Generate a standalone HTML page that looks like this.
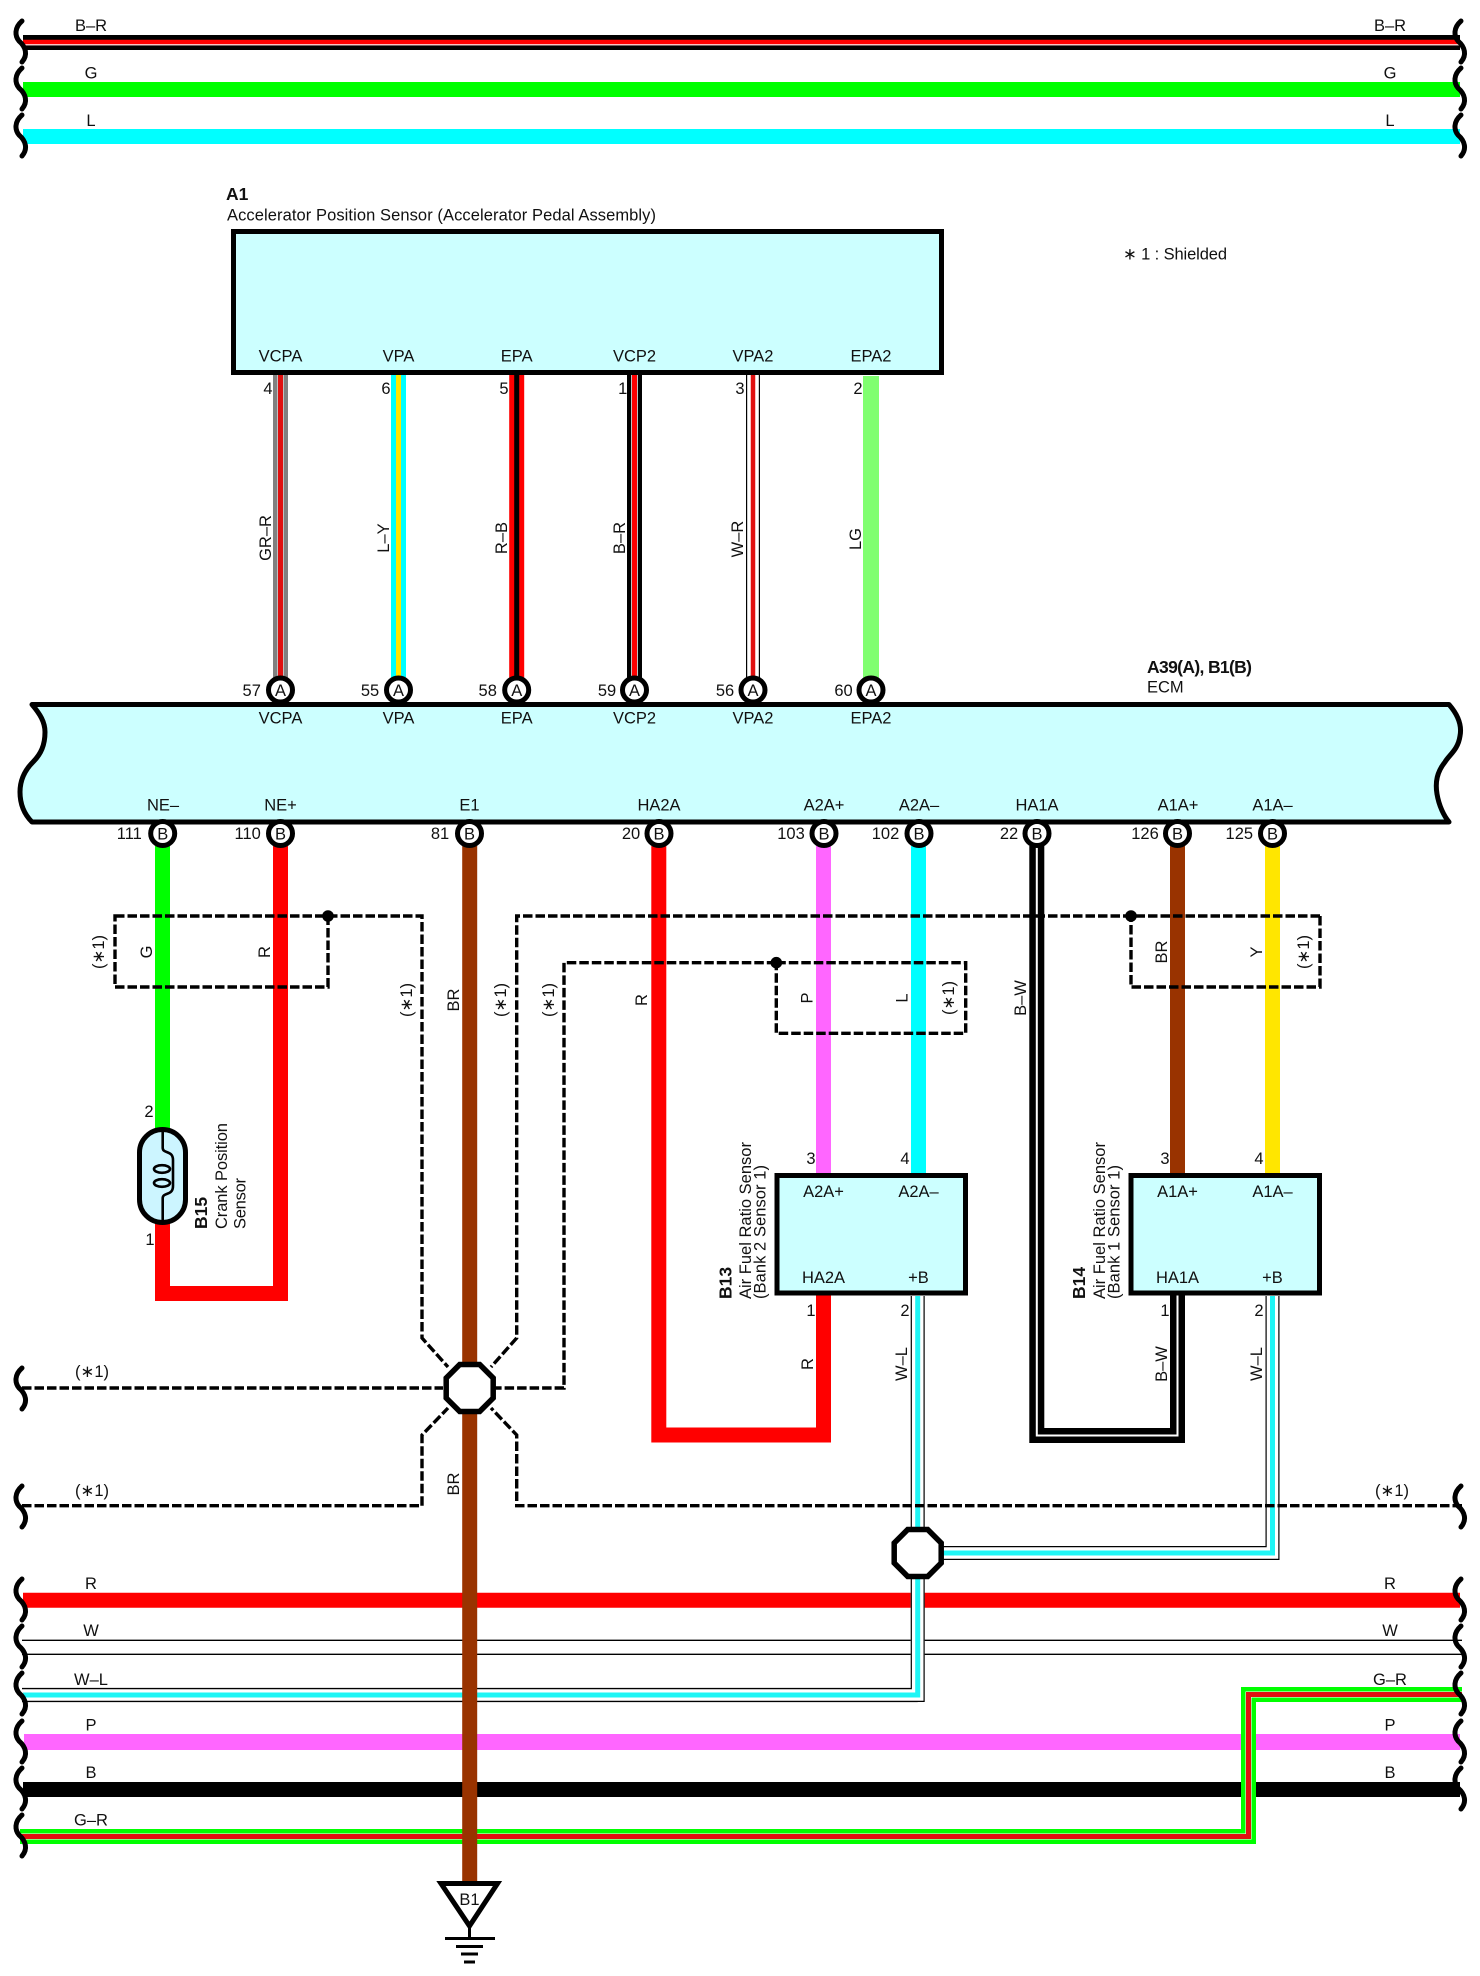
<!DOCTYPE html>
<html><head><meta charset="utf-8"><title>Wiring diagram</title>
<style>
html,body{margin:0;padding:0;background:#fff}
svg{display:block}
text{font-family:"Liberation Sans",sans-serif;font-size:16.5px;fill:#111}
.m{text-anchor:middle}
.b{font-weight:bold;font-size:17.5px}
.f{fill:none}
.d{fill:none;stroke:#000;stroke-width:3.4;stroke-dasharray:9.5 3}
.c{fill:#fff;stroke:#000;stroke-width:5}
.o{fill:#fff;stroke:#000;stroke-width:5.5;stroke-linejoin:miter}
.box{fill:#ccffff;stroke:#000;stroke-width:5}
.s{fill:none;stroke:#000;stroke-width:5;stroke-linecap:round}
</style></head><body>
<svg xmlns="http://www.w3.org/2000/svg" width="1480" height="1976" viewBox="0 0 1480 1976">
<defs>
<path id="sq" d="M22,2 C14,9 15,17 19,22 C26,28 28,36 22,43" fill="none" stroke="#000" stroke-width="5" stroke-linecap="round"/>
</defs>
<rect width="1480" height="1976" fill="#fff"/>

<!-- top buses -->
<g fill="none">
<path d="M23,42.5H1460" stroke="#000" stroke-width="15"/>
<path d="M23,42.5H1460" stroke="#f00" stroke-width="5.5"/>
<path d="M23,44.8H1460" stroke="#fff" stroke-width="1.2"/>
<path d="M23,89.5H1460" stroke="#0f0" stroke-width="15"/>
<path d="M23,136.5H1460" stroke="#0ff" stroke-width="15"/>
</g>
<use href="#sq" x="0" y="19"/><use href="#sq" x="0" y="66"/><use href="#sq" x="0" y="113"/>
<use href="#sq" x="1439" y="19"/><use href="#sq" x="1439" y="66"/><use href="#sq" x="1439" y="113"/>
<text class="m" x="91" y="31">B–R</text><text class="m" x="91" y="78.5">G</text><text class="m" x="91" y="126">L</text>
<text class="m" x="1390" y="31">B–R</text><text class="m" x="1390" y="78.5">G</text><text class="m" x="1390" y="126">L</text>

<!-- A1 -->
<text class="b" x="226" y="200">A1</text>
<text x="227" y="220.5" textLength="429" lengthAdjust="spacing">Accelerator Position Sensor (Accelerator Pedal Assembly)</text>
<rect class="box" x="233.5" y="231.5" width="708" height="141"/>
<text x="1123" y="259.5" textLength="104" lengthAdjust="spacing">∗ 1 : Shielded</text>

<!-- A1-ECM wires -->
<g fill="none">
<path d="M280.5,375V680" stroke="#808080" stroke-width="15"/><path d="M280.5,375V680" stroke="#fff" stroke-width="6"/><path d="M280.5,375V680" stroke="#e01010" stroke-width="5"/>
<path d="M398.5,375V680" stroke="#0ff" stroke-width="15"/><path d="M398.5,375V680" stroke="#ffe600" stroke-width="5"/>
<path d="M516.7,375V680" stroke="#f00" stroke-width="15"/><path d="M516.7,375V680" stroke="#000" stroke-width="5"/>
<path d="M634.5,375V680" stroke="#000" stroke-width="15"/><path d="M634.5,375V680" stroke="#fff" stroke-width="6.5"/><path d="M634.5,375V680" stroke="#f00" stroke-width="5"/>
<path d="M753,375V680" stroke="#000" stroke-width="14"/><path d="M753,375V680" stroke="#fff" stroke-width="11.6"/><path d="M753,375V680" stroke="#e01010" stroke-width="4.5"/>
<path d="M871,376V680" stroke="#80ff70" stroke-width="16"/>
</g>
<g class="m">
<text class="m" x="280.5" y="361.5">VCPA</text><text class="m" x="398.5" y="361.5">VPA</text><text class="m" x="516.7" y="361.5">EPA</text>
<text class="m" x="634.5" y="361.5">VCP2</text><text class="m" x="753" y="361.5">VPA2</text><text class="m" x="871" y="361.5">EPA2</text>
<text class="m" x="268" y="394">4</text><text class="m" x="386" y="394">6</text><text class="m" x="504" y="394">5</text>
<text class="m" x="622.7" y="394">1</text><text class="m" x="740" y="394">3</text><text class="m" x="858" y="394">2</text>
</g>
<text class="m" transform="rotate(-90 271 538)" x="271" y="538">GR–R</text>
<text class="m" transform="rotate(-90 389 538)" x="389" y="538">L–Y</text>
<text class="m" transform="rotate(-90 507 538)" x="507" y="538">R–B</text>
<text class="m" transform="rotate(-90 625 538)" x="625" y="538">B–R</text>
<text class="m" transform="rotate(-90 743 539)" x="743" y="539">W–R</text>
<text class="m" transform="rotate(-90 861 539)" x="861" y="539">LG</text>

<!-- ECM -->
<text class="b" x="1147" y="673" textLength="105" lengthAdjust="spacing">A39(A), B1(B)</text>
<text x="1147" y="692.5">ECM</text>
<path class="box" stroke-linejoin="round" d="M32,704.5 L1449,704.5 C1459,716 1462,726 1460,736 C1458,750 1449,755 1445,762 C1437,772 1435,782 1437,794 C1439,806 1444,816 1449,822 L32,822 C26,816 20,806 20,792 C20,780 25,770 33,762 C41,754 45,745 45,732 C45,722 40,714 32,704.5 Z"/>
<g>
<text class="m" x="280.5" y="723.3">VCPA</text><text class="m" x="398.5" y="723.3">VPA</text><text class="m" x="516.7" y="723.3">EPA</text>
<text class="m" x="634.5" y="723.3">VCP2</text><text class="m" x="753" y="723.3">VPA2</text><text class="m" x="871" y="723.3">EPA2</text>
<text class="m" x="163" y="810.7">NE–</text><text class="m" x="280.5" y="810.7">NE+</text><text class="m" x="469.5" y="810.7">E1</text>
<text class="m" x="659" y="810.7">HA2A</text><text class="m" x="824" y="810.7">A2A+</text><text class="m" x="919" y="810.7">A2A–</text>
<text class="m" x="1037" y="810.7">HA1A</text><text class="m" x="1178" y="810.7">A1A+</text><text class="m" x="1272.5" y="810.7">A1A–</text>
</g>
<g>
<text class="m" x="251.7" y="696">57</text><text class="m" x="370" y="696">55</text><text class="m" x="487.7" y="696">58</text>
<text class="m" x="607" y="696">59</text><text class="m" x="725" y="696">56</text><text class="m" x="843.5" y="696">60</text>
<text class="m" x="129.3" y="839">111</text><text class="m" x="247.7" y="839">110</text><text class="m" x="440" y="839">81</text>
<text class="m" x="631" y="839">20</text><text class="m" x="791" y="839">103</text><text class="m" x="885.5" y="839">102</text>
<text class="m" x="1009" y="839">22</text><text class="m" x="1145" y="839">126</text><text class="m" x="1239.3" y="839">125</text>
</g>

<!-- bottom buses -->
<g fill="none">
<path d="M23,1600.2H1460" stroke="#f00" stroke-width="15"/>
<path d="M22,1640.3H1462M22,1654.3H1462" stroke="#000" stroke-width="1.4"/>
<path d="M22,1695H917.7" stroke="#000" stroke-width="14.2"/><path d="M20,1695H917.7" stroke="#fff" stroke-width="11.8"/><path d="M23,1695H917.7" stroke="#1ff5f5" stroke-width="5"/>
<path d="M24,1742H1460" stroke="#f6f" stroke-width="16"/>
<path d="M23,1789.5H1460" stroke="#000" stroke-width="15"/>
<path d="M20,1836.5H1248.5V1694.5H1462" stroke="#0f0" stroke-width="15"/>
<path d="M20,1836.5H1248.5V1694.5H1462" stroke="#fff" stroke-width="6"/>
<path d="M20,1836.5H1248.5V1694.5H1462" stroke="#e01010" stroke-width="5"/>
<!-- W-L vertical + splice -->
<path d="M917.7,1296V1702M917.7,1702" stroke="#fff" stroke-width="14"/>
<path d="M22,1695H917.7V1296" stroke="#000" stroke-width="14"/>
<path d="M20,1695H917.7V1296" stroke="#fff" stroke-width="11.6"/>
<path d="M23,1695H917.7V1296" stroke="#1ff5f5" stroke-width="5"/>
<path d="M917.7,1553H1272.5V1296" stroke="#000" stroke-width="14"/>
<path d="M917.7,1553H1272.5V1296" stroke="#fff" stroke-width="11.6"/>
<path d="M917.7,1553H1272.5V1296" stroke="#1ff5f5" stroke-width="5"/>
</g>
<use href="#sq" x="0" y="1577"/><use href="#sq" x="0" y="1624"/><use href="#sq" x="0" y="1671"/><use href="#sq" x="0" y="1719"/><use href="#sq" x="0" y="1766"/><use href="#sq" x="0" y="1813"/>
<use href="#sq" x="1439" y="1577"/><use href="#sq" x="1439" y="1624"/><use href="#sq" x="1439" y="1671"/><use href="#sq" x="1439" y="1719"/><use href="#sq" x="1439" y="1766"/>
<g>
<text class="m" x="91" y="1589">R</text><text class="m" x="91" y="1636">W</text><text class="m" x="91" y="1685">W–L</text><text class="m" x="91" y="1730.7">P</text><text class="m" x="91" y="1778">B</text><text class="m" x="91" y="1825.7">G–R</text>
<text class="m" x="1390" y="1589">R</text><text class="m" x="1390" y="1636">W</text><text class="m" x="1390" y="1685">G–R</text><text class="m" x="1390" y="1730.7">P</text><text class="m" x="1390" y="1778">B</text>
</g>

<!-- ECM output wires -->
<g fill="none" stroke-width="15">
<path d="M162.5,846V1130" stroke="#0f0"/>
<path d="M162.5,1222V1293.5H280.5V846" stroke="#f00"/>
<path d="M469.7,846V1885" stroke="#930"/>
<path d="M658.8,846V1435H823.5V1293" stroke="#f00"/>
<path d="M823.5,846V1176" stroke="#f6f"/>
<path d="M918.5,846V1176" stroke="#0ff"/>
<path d="M1036.8,846V1435.5H1177.5V1293" stroke="#000"/>
<path d="M1036.8,846V1435.5H1177.5V1293" stroke="#fff" stroke-width="2"/>
<path d="M1177.5,846V1176" stroke="#930"/>
<path d="M1272.5,846V1176" stroke="#ffe600"/>
</g>

<!-- pins -->
<g>
<circle class="c" cx="280.5" cy="690" r="12"/><circle class="c" cx="398.5" cy="690" r="12"/><circle class="c" cx="516.7" cy="690" r="12"/>
<circle class="c" cx="634.5" cy="690" r="12"/><circle class="c" cx="753" cy="690" r="12"/><circle class="c" cx="871" cy="690" r="12"/>
<circle class="c" cx="162.7" cy="833.5" r="12"/><circle class="c" cx="280.5" cy="833.5" r="12"/><circle class="c" cx="469.5" cy="833.5" r="12"/>
<circle class="c" cx="659" cy="833.5" r="12"/><circle class="c" cx="824" cy="833.5" r="12"/><circle class="c" cx="919" cy="833.5" r="12"/>
<circle class="c" cx="1037" cy="833.5" r="12"/><circle class="c" cx="1177.5" cy="833.5" r="12"/><circle class="c" cx="1272.5" cy="833.5" r="12"/>
</g>
<g>
<text class="m" x="280.5" y="696">A</text><text class="m" x="398.5" y="696">A</text><text class="m" x="516.7" y="696">A</text>
<text class="m" x="634.5" y="696">A</text><text class="m" x="753" y="696">A</text><text class="m" x="871" y="696">A</text>
<text class="m" x="162.7" y="839.5">B</text><text class="m" x="280.5" y="839.5">B</text><text class="m" x="469.5" y="839.5">B</text>
<text class="m" x="659" y="839.5">B</text><text class="m" x="824" y="839.5">B</text><text class="m" x="919" y="839.5">B</text>
<text class="m" x="1037" y="839.5">B</text><text class="m" x="1177.5" y="839.5">B</text><text class="m" x="1272.5" y="839.5">B</text>
</g>

<!-- crank sensor -->
<rect x="139.5" y="1129.5" width="46" height="93" rx="23" ry="23" fill="#ccf5ff" stroke="#000" stroke-width="5"/>
<path d="M162.7,1129V1148C163,1154 173,1150 173,1160V1186C173,1196 163,1192 162.7,1198V1224" fill="none" stroke="#000" stroke-width="2.6"/>
<ellipse cx="162" cy="1169" rx="8" ry="3.8" fill="none" stroke="#000" stroke-width="2.6"/>
<ellipse cx="162" cy="1183" rx="8" ry="3.8" fill="none" stroke="#000" stroke-width="2.6"/>
<text class="m" x="149" y="1117">2</text><text class="m" x="150" y="1245">1</text>
<text class="b" transform="rotate(-90 207 1229)" x="207" y="1229">B15</text>
<text transform="rotate(-90 227 1229)" x="227" y="1229" textLength="106" lengthAdjust="spacing">Crank Position</text>
<text transform="rotate(-90 245.5 1229)" x="245.5" y="1229" textLength="51" lengthAdjust="spacing">Sensor</text>

<!-- B13 -->
<rect class="box" x="777" y="1175.5" width="188.5" height="117.5"/>
<text class="m" x="823.5" y="1197">A2A+</text><text class="m" x="918.5" y="1197">A2A–</text>
<text class="m" x="823.5" y="1283">HA2A</text><text class="m" x="918.5" y="1283">+B</text>
<text class="m" x="811" y="1164">3</text><text class="m" x="905" y="1164">4</text>
<text class="m" x="811" y="1316">1</text><text class="m" x="905" y="1316">2</text>
<text class="b" transform="rotate(-90 731.5 1299)" x="731.5" y="1299">B13</text>
<text transform="rotate(-90 751 1299)" x="751" y="1299" textLength="157" lengthAdjust="spacing">Air Fuel Ratio Sensor</text>
<text transform="rotate(-90 765.5 1299)" x="765.5" y="1299" textLength="134" lengthAdjust="spacing">(Bank 2 Sensor 1)</text>
<!-- B14 -->
<rect class="box" x="1131" y="1175.5" width="188.5" height="117.5"/>
<text class="m" x="1177.5" y="1197">A1A+</text><text class="m" x="1272.5" y="1197">A1A–</text>
<text class="m" x="1177.5" y="1283">HA1A</text><text class="m" x="1272.5" y="1283">+B</text>
<text class="m" x="1165" y="1164">3</text><text class="m" x="1259" y="1164">4</text>
<text class="m" x="1165" y="1316">1</text><text class="m" x="1259" y="1316">2</text>
<text class="b" transform="rotate(-90 1085 1299)" x="1085" y="1299">B14</text>
<text transform="rotate(-90 1105 1299)" x="1105" y="1299" textLength="157" lengthAdjust="spacing">Air Fuel Ratio Sensor</text>
<text transform="rotate(-90 1119.5 1299)" x="1119.5" y="1299" textLength="134" lengthAdjust="spacing">(Bank 1 Sensor 1)</text>

<!-- dashed shields -->
<path class="d" d="M115,916H328V987H115Z"/>
<path class="d" d="M328,916H422V1338L448,1367"/>
<path class="d" d="M1320,916V987H1131V916"/>
<path class="d" d="M1320,916H516.7V1338L491,1367"/>
<path class="d" d="M776.3,962.7H965.7V1033.3H776.3Z"/>
<path class="d" d="M776.3,962.7H564V1388H495"/>
<path class="d" d="M22,1388H443"/>
<path class="d" d="M22,1505.7H422V1435L448,1408"/>
<path class="d" d="M1462,1505.7H516.7V1435L491,1408"/>
<circle cx="328" cy="916" r="5.8"/><circle cx="1131" cy="916" r="5.8"/><circle cx="776.3" cy="962.7" r="5.8"/>
<use href="#sq" x="0" y="1366"/><use href="#sq" x="0" y="1484"/><use href="#sq" x="1439" y="1484"/>

<!-- splices -->
<polygon class="o" points="459.7,1364.5 479.7,1364.5 493.2,1378 493.2,1398 479.7,1411.5 459.7,1411.5 446.2,1398 446.2,1378"/>
<polygon class="o" points="907.7,1529.5 927.7,1529.5 941.2,1543 941.2,1563 927.7,1576.5 907.7,1576.5 894.2,1563 894.2,1543"/>

<!-- rotated wire labels -->
<g>
<text class="m" transform="rotate(-90 152 952)" x="152" y="952">G</text>
<text class="m" transform="rotate(-90 270 952)" x="270" y="952">R</text>
<text class="m" transform="rotate(-90 104 952)" x="104" y="952">(∗1)</text>
<text class="m" transform="rotate(-90 412 1000)" x="412" y="1000">(∗1)</text>
<text class="m" transform="rotate(-90 459 1000)" x="459" y="1000">BR</text>
<text class="m" transform="rotate(-90 506 1000)" x="506" y="1000">(∗1)</text>
<text class="m" transform="rotate(-90 554 1000)" x="554" y="1000">(∗1)</text>
<text class="m" transform="rotate(-90 647 1000)" x="647" y="1000">R</text>
<text class="m" transform="rotate(-90 812.7 998)" x="812.7" y="998">P</text>
<text class="m" transform="rotate(-90 907.5 998)" x="907.5" y="998">L</text>
<text class="m" transform="rotate(-90 954 998)" x="954" y="998">(∗1)</text>
<text class="m" transform="rotate(-90 1026 998)" x="1026" y="998">B–W</text>
<text class="m" transform="rotate(-90 1167 952)" x="1167" y="952">BR</text>
<text class="m" transform="rotate(-90 1262 952)" x="1262" y="952">Y</text>
<text class="m" transform="rotate(-90 1309 952)" x="1309" y="952">(∗1)</text>
<text class="m" transform="rotate(-90 813 1364)" x="813" y="1364">R</text>
<text class="m" transform="rotate(-90 907 1364)" x="907" y="1364">W–L</text>
<text class="m" transform="rotate(-90 1167 1364)" x="1167" y="1364">B–W</text>
<text class="m" transform="rotate(-90 1262 1364)" x="1262" y="1364">W–L</text>
<text class="m" transform="rotate(-90 459 1484)" x="459" y="1484">BR</text>
<text class="m" x="92" y="1377">(∗1)</text>
<text class="m" x="92" y="1496">(∗1)</text>
<text class="m" x="1392" y="1496">(∗1)</text>
</g>

<!-- ground -->
<polygon points="441,1883.5 497.5,1883.5 469.5,1926" fill="#fff" stroke="#000" stroke-width="5" stroke-linejoin="miter"/>
<text class="m" x="469.5" y="1905">B1</text>
<path d="M469.5,1926V1938M445,1938.5H495M456,1946.5H483M461,1954H478M464,1962H475" fill="none" stroke="#000" stroke-width="3"/>
</svg>
</body></html>
